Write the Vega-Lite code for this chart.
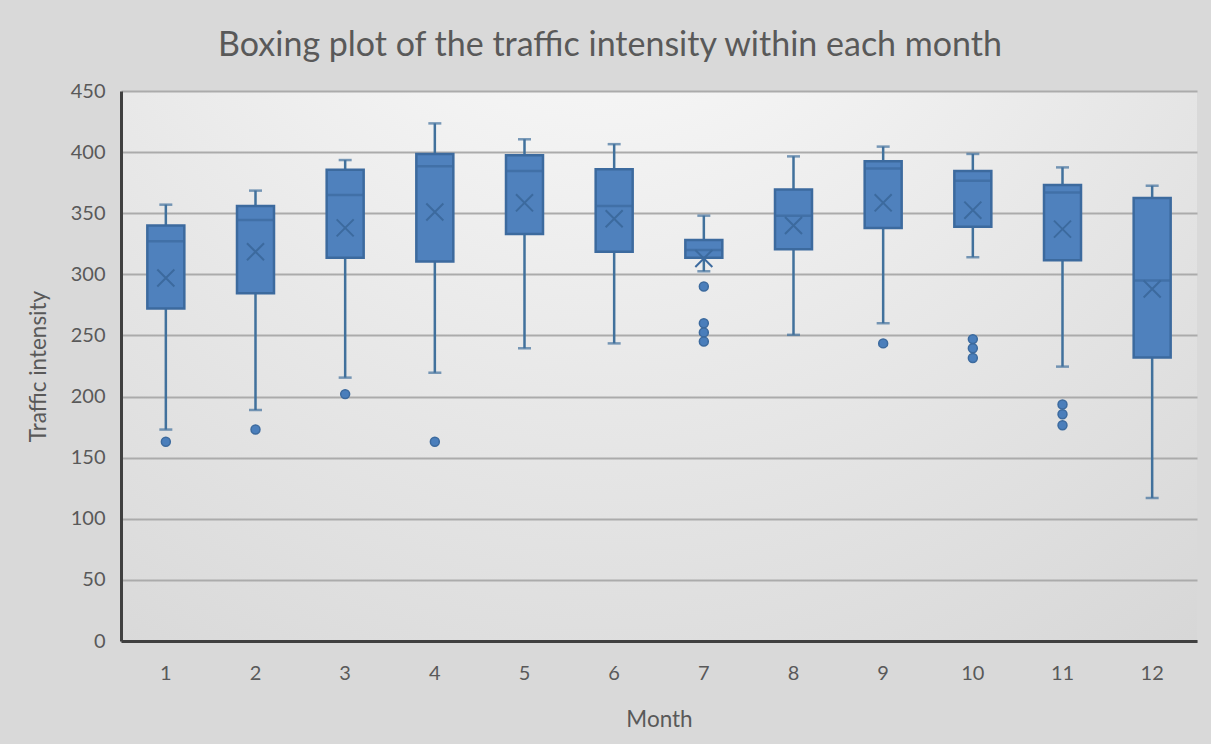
{
  "$schema": "https://vega.github.io/schema/vega-lite/v6.json",
  "width": 1076,
  "height": 550,
  "autosize": {"type": "none"},
  "padding": {"left": 121, "top": 91, "right": 14, "bottom": 103},
  "background": "#d9d9d9",
  "title": {
    "text": "Boxing plot of the traffic intensity within each month",
    "font": "Lato",
    "fontSize": 34,
    "fontWeight": "normal",
    "color": "#595959",
    "anchor": "middle",
    "frame": "group",
    "dx": -49,
    "offset": 18
  },
  "config": {
    "view": {
      "stroke": null,
      "fill": {
        "gradient": "radial",
        "x1": 0.45, "y1": 0, "r1": 0,
        "x2": 0.45, "y2": 0, "r2": 1.05,
        "stops": [
          {"offset": 0, "color": "#ffffff"},
          {"offset": 0.5, "color": "#e8e8e8"},
          {"offset": 1, "color": "#d2d2d2"}
        ]
      }
    },
    "axis": {
      "labelFont": "Lato",
      "titleFont": "Lato",
      "labelColor": "#595959",
      "titleColor": "#595959",
      "labelFontSize": 20,
      "titleFontSize": 22.5,
      "titleFontWeight": "normal",
      "ticks": false,
      "domainColor": "#404040",
      "domainWidth": 3
    }
  },
  "datasets": {
    "stats": [
      {"month": 1, "lower": 173, "q1": 272, "median": 327, "q3": 340, "upper": 357, "mean": 297},
      {"month": 2, "lower": 189, "q1": 284.5, "median": 344.5, "q3": 356, "upper": 368.5, "mean": 318.5},
      {"month": 3, "lower": 215.5, "q1": 313.5, "median": 365, "q3": 385.5, "upper": 393.5, "mean": 338},
      {"month": 4, "lower": 219.5, "q1": 310.5, "median": 388.5, "q3": 398.5, "upper": 423.5, "mean": 351},
      {"month": 5, "lower": 239.5, "q1": 333, "median": 384.5, "q3": 397.5, "upper": 410.5, "mean": 358.5},
      {"month": 6, "lower": 243.5, "q1": 318.5, "median": 356, "q3": 386, "upper": 406.5, "mean": 345.5},
      {"month": 7, "lower": 302.5, "q1": 313.5, "median": 320, "q3": 328, "upper": 348, "mean": 313},
      {"month": 8, "lower": 250.5, "q1": 320.5, "median": 348, "q3": 369.5, "upper": 396.5, "mean": 340},
      {"month": 9, "lower": 260, "q1": 338, "median": 386.5, "q3": 392.5, "upper": 404.5, "mean": 358.5},
      {"month": 10, "lower": 314, "q1": 339, "median": 376.5, "q3": 384.5, "upper": 398.5, "mean": 352.5},
      {"month": 11, "lower": 224.5, "q1": 311.5, "median": 367, "q3": 373, "upper": 387.5, "mean": 337},
      {"month": 12, "lower": 117, "q1": 232, "median": 295, "q3": 362.5, "upper": 372.5, "mean": 288}
    ],
    "outliers": [
      {"month": 1, "value": 163},
      {"month": 2, "value": 173},
      {"month": 3, "value": 202},
      {"month": 4, "value": 163},
      {"month": 7, "value": 290},
      {"month": 7, "value": 260},
      {"month": 7, "value": 252.5},
      {"month": 7, "value": 245},
      {"month": 9, "value": 243.5},
      {"month": 10, "value": 247},
      {"month": 10, "value": 239.5},
      {"month": 10, "value": 231.5},
      {"month": 11, "value": 193.5},
      {"month": 11, "value": 185.5},
      {"month": 11, "value": 176.5}
    ]
  },
  "encoding": {
    "x": {
      "field": "month",
      "type": "ordinal",
      "scale": {"domain": [1,2,3,4,5,6,7,8,9,10,11,12], "paddingInner": 0, "paddingOuter": 0},
      "axis": {"title": "Month", "labelAngle": 0, "labelPadding": 22, "titlePadding": 25, "grid": false}
    }
  },
  "layer": [
    {
      "data": {"name": "stats"},
      "mark": {"type": "rule", "color": "#41719c", "strokeWidth": 2.5},
      "encoding": {
        "y": {
          "field": "lower",
          "type": "quantitative",
          "scale": {"domain": [0, 450], "nice": false},
          "axis": {
            "title": "Traffic intensity",
            "values": [0, 50, 100, 150, 200, 250, 300, 350, 400, 450],
            "labelPadding": 16,
            "titlePadding": 20,
            "grid": true,
            "gridColor": "#ababab",
            "gridWidth": 2
          }
        },
        "y2": {"field": "upper"}
      }
    },
    {
      "data": {"name": "stats"},
      "mark": {"type": "tick", "color": "#41719c", "size": 13, "thickness": 2.5},
      "encoding": {"y": {"field": "lower", "type": "quantitative"}}
    },
    {
      "data": {"name": "stats"},
      "mark": {"type": "tick", "color": "#41719c", "size": 13, "thickness": 2.5},
      "encoding": {"y": {"field": "upper", "type": "quantitative"}}
    },
    {
      "data": {"name": "stats"},
      "mark": {"type": "bar", "width": 37, "fill": "#4f81bd", "stroke": "#3c6a9e", "strokeWidth": 2.5},
      "encoding": {
        "y": {"field": "q1", "type": "quantitative"},
        "y2": {"field": "q3"}
      }
    },
    {
      "data": {"name": "stats"},
      "mark": {"type": "tick", "color": "#3c6a9e", "size": 37, "thickness": 2.5},
      "encoding": {"y": {"field": "median", "type": "quantitative"}}
    },
    {
      "data": {"name": "stats"},
      "mark": {"type": "point", "shape": "M-1,-1L1,1M1,-1L-1,1", "filled": false, "size": 290, "stroke": "#3c6a9e", "strokeWidth": 2, "opacity": 1},
      "encoding": {"y": {"field": "mean", "type": "quantitative"}}
    },
    {
      "data": {"name": "outliers"},
      "mark": {"type": "point", "shape": "circle", "filled": true, "size": 80, "fill": "#4a7ebb", "stroke": "#3c6a9e", "strokeWidth": 1.5, "opacity": 1},
      "encoding": {"y": {"field": "value", "type": "quantitative"}}
    }
  ]
}
